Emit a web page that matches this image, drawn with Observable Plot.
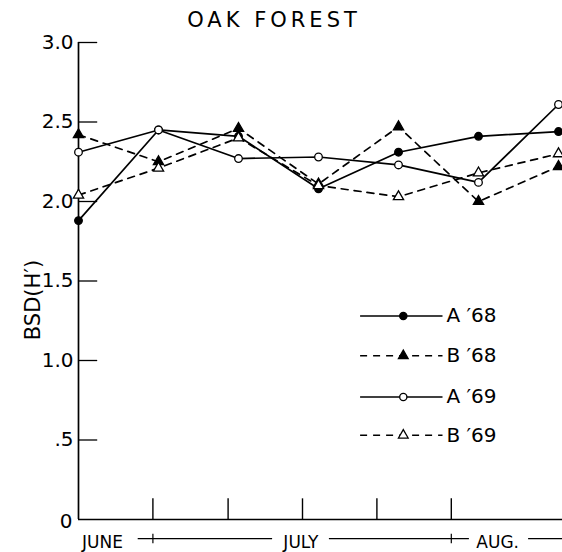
<!DOCTYPE html>
<html><head><meta charset="utf-8">
<script src="https://cdn.jsdelivr.net/npm/d3@7"></script>
<script src="https://cdn.jsdelivr.net/npm/@observablehq/plot@0.6"></script>
<style>body{margin:0;background:#fff}</style>
</head><body><div id="chart"></div>
<script>
const samples = [0, 1, 2, 3, 4, 5, 6];
const seriesNames = ["A \u203268", "B \u203268", "A \u203269", "B \u203269"];
const a68 = [1.88, 2.45, 2.41, 2.08, 2.31, 2.41, 2.44];
const b68 = [2.42, 2.25, 2.46, 2.11, 2.47, 2.00, 2.22];
const a69 = [2.31, 2.45, 2.27, 2.28, 2.23, 2.12, 2.61];
const b69 = [2.04, 2.21, 2.40, 2.10, 2.03, 2.18, 2.30];
const yTicks = [0.5, 1.0, 1.5, 2.0, 2.5, 3.0];
const yTickLabels = [".5", "1.0", "1.5", "2.0", "2.5", "3.0"];
const xTicks = [0.93, 1.87, 2.8, 3.73, 4.66];
const months = ["JUNE", "JULY", "AUG."];
const monthPos = [0.3, 2.78, 5.24];

const values = [a68, b68, a69, b69];
const styles = [
  {dash: null, fill: "black", symbol: "circle"},
  {dash: "7,6", fill: "black", symbol: "triangle"},
  {dash: null, fill: "white", symbol: "circle"},
  {dash: "7,6", fill: "white", symbol: "triangle"}
];
const rows = [];
values.forEach((v, s) => v.forEach((y, i) => rows.push({series: s, x: samples[i], y})));

const font = "DejaVu Sans, sans-serif";
const marks = [];
marks.push(Plot.ruleX([0], {y1: 0, y2: 3, strokeWidth: 1.7}));
marks.push(Plot.ruleY([0], {x1: 0, x2: 6.05, strokeWidth: 1.7}));
marks.push(Plot.ruleY(yTicks, {x1: 0, x2: 0.24, strokeWidth: 1.3}));
marks.push(Plot.ruleX(xTicks, {y1: 0, y2: 0.13, strokeWidth: 1.4}));
marks.push(Plot.text(yTicks.map((t, i) => ({t, l: yTickLabels[i]})), {x: 0, y: "t", text: "l", textAnchor: "end", dx: -5, fontSize: 20}));
marks.push(Plot.text([{t: 0, l: "0"}], {x: 0, y: "t", text: "l", textAnchor: "end", dx: -6, dy: 2, fontSize: 20}));
marks.push(Plot.text(months.map((m, i) => ({m, x: monthPos[i]})), {x: "x", y: -0.145, text: "m", fontSize: 17, letterSpacing: 1.5}));
const segs = [[0.74, 2.42], [3.13, 4.88], [5.62, 6.05]];
marks.push(Plot.link(segs, {x1: d => d[0], x2: d => d[1], y1: -0.12, y2: -0.12, strokeWidth: 1.2}));
marks.push(Plot.link([0.93, 4.66], {x1: d => d, x2: d => d, y1: -0.09, y2: -0.15, strokeWidth: 1.2}));
styles.forEach((st, s) => {
  const data = rows.filter(r => r.series === s);
  marks.push(Plot.line(data, {x: "x", y: "y", stroke: "black", strokeWidth: 1.7, strokeDasharray: st.dash}));
});
styles.forEach((st, s) => {
  const data = rows.filter(r => r.series === s);
  marks.push(Plot.dot(data, {x: "x", y: "y", r: 3.8, symbol: st.symbol, fill: st.fill, stroke: "black", strokeWidth: 1.3}));
});
const legY = [1.28, 1.03, 0.77, 0.53];
const legendRows = styles.map((st, s) => ({s, y: legY[s], label: seriesNames[s]}));
styles.forEach((st, s) => {
  const d = [legendRows[s]];
  marks.push(Plot.link(d, {x1: 3.52, x2: 4.55, y1: "y", y2: "y", stroke: "black", strokeWidth: 1.5, strokeDasharray: st.dash}));
  marks.push(Plot.dot(d, {x: 4.06, y: "y", r: 3.6, symbol: st.symbol, fill: st.fill, stroke: "black", strokeWidth: 1.3}));
  marks.push(Plot.text(d, {x: 4.6, y: "y", text: "label", textAnchor: "start", fontSize: 20, letterSpacing: 0.5}));
});

const chart = Plot.plot({
  width: 562, height: 552,
  marginLeft: 78, marginRight: 4, marginTop: 42, marginBottom: 33,
  style: {fontFamily: font, background: "white", color: "black"},
  x: {domain: [0, 6], axis: null},
  y: {domain: [0, 3], axis: null},
  marks
});
document.getElementById("chart").appendChild(chart);
const svg = d3.select(chart);
svg.append("text").attr("x", 274).attr("y", 27).attr("text-anchor", "middle")
  .attr("font-size", 21).attr("letter-spacing", 4).attr("font-family", font).text("OAK FOREST");
svg.append("text").attr("transform", "translate(40,300) rotate(-90)").attr("text-anchor", "middle")
  .attr("font-size", 21).attr("font-family", font).text("BSD(H\u2032)");
</script></body></html>
